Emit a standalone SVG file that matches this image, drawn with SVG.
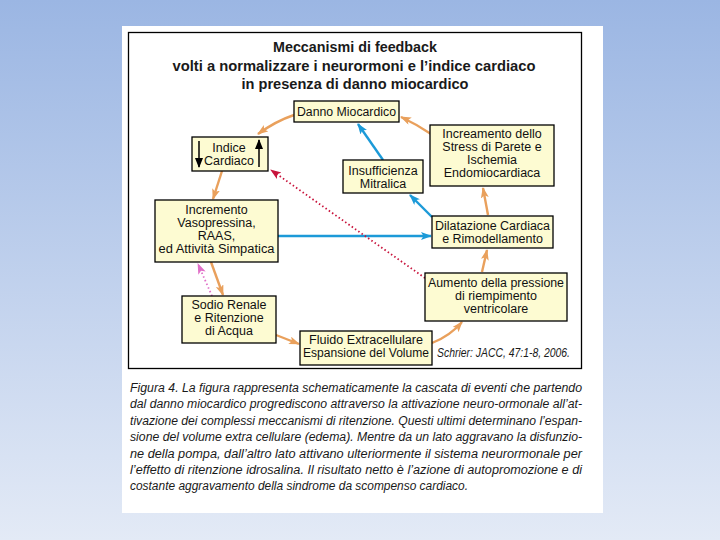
<svg xmlns="http://www.w3.org/2000/svg" width="720" height="540" viewBox="0 0 720 540">
<defs>
<linearGradient id="bg" x1="0" y1="0" x2="0" y2="1">
<stop offset="0" stop-color="#9bb6e3"/>
<stop offset="1" stop-color="#e3eaf6"/>
</linearGradient>
<marker id="ao" markerUnits="userSpaceOnUse" markerWidth="12" markerHeight="10" refX="10" refY="4" orient="auto"><path d="M0,0 L11,4 L0,8 L2.5,4 Z" fill="#e9a05c"/></marker>
<marker id="ab" markerUnits="userSpaceOnUse" markerWidth="12" markerHeight="10" refX="10" refY="4" orient="auto"><path d="M0,0 L11,4 L0,8 L2.5,4 Z" fill="#1c9ad8"/></marker>
<marker id="ar" markerUnits="userSpaceOnUse" markerWidth="12" markerHeight="10" refX="10" refY="4" orient="auto"><path d="M0,0 L11,4 L0,8 L2.5,4 Z" fill="#c8143c"/></marker>
<marker id="ap" markerUnits="userSpaceOnUse" markerWidth="12" markerHeight="10" refX="10" refY="4" orient="auto"><path d="M0,0 L11,4 L0,8 L2.5,4 Z" fill="#e070c8"/></marker>
<marker id="ak" markerUnits="userSpaceOnUse" markerWidth="10" markerHeight="10" refX="9" refY="4" orient="auto"><path d="M0,0 L10,4 L0,8 Z" fill="#000"/></marker>
</defs>
<style>
.box{fill:#fdfbd2;stroke:#000;stroke-width:1.3}
.t{font-family:"Liberation Sans",Arial,sans-serif;font-size:12.5px;fill:#111;text-anchor:middle}
.ttl{font-family:"Liberation Sans",Arial,sans-serif;font-size:15px;font-weight:bold;fill:#1a1a1a;text-anchor:middle}
.cap{font-family:"Liberation Sans",Arial,sans-serif;font-size:12.5px;font-style:italic;fill:#1a1a1a}
.o{fill:none;stroke:#e9a05c;stroke-width:2.4;marker-end:url(#ao)}
.b{fill:none;stroke:#1c9ad8;stroke-width:2.4;marker-end:url(#ab)}
.r{fill:none;stroke:#c8143c;stroke-width:1.8;stroke-dasharray:1.5 2.5;marker-end:url(#ar)}
.p{fill:none;stroke:#e070c8;stroke-width:1.8;stroke-dasharray:1.5 2.5;marker-end:url(#ap)}
.k{stroke:#000;stroke-width:1.5;marker-end:url(#ak)}
</style>
<rect width="720" height="540" fill="url(#bg)"/>
<rect x="122" y="26" width="481" height="487" fill="#fff"/>
<rect x="128.5" y="32.5" width="453" height="336" fill="none" stroke="#000" stroke-width="1.3"/>
<g id="title">
<text class="ttl" x="355" y="52" textLength="164" lengthAdjust="spacingAndGlyphs">Meccanismi di feedback</text>
<text class="ttl" x="354" y="71" textLength="363" lengthAdjust="spacingAndGlyphs">volti a normalizzare i neurormoni e l’indice cardiaco</text>
<text class="ttl" x="355" y="89" textLength="227" lengthAdjust="spacingAndGlyphs">in presenza di danno miocardico</text>
</g>
<g id="connectors">
<path class="o" d="M294,115 Q276,121 258,134"/>
<path class="o" d="M431,134 Q416,124 401,117"/>
<path class="o" d="M488,215 L483,188"/>
<path class="o" d="M482,272 L487,250"/>
<path class="o" d="M432,343 Q450,336 462,322"/>
<path class="o" d="M276,335 L299,344"/>
<path class="o" d="M211,262 L223,295"/>
<path class="o" d="M222,171 L213,199"/>
<path class="b" d="M278,236 L431,236"/>
<path class="b" d="M432,217 L410,195"/>
<path class="b" d="M383,160 L358,124"/>
<path class="r" d="M425,278 L271,170"/>
<path class="p" d="M212,296 L198,264"/>
</g>
<g id="danno"><rect class="box" x="294" y="101" width="105" height="21"/><text class="t" x="346.5" y="116" textLength="99" lengthAdjust="spacingAndGlyphs">Danno Miocardico</text></g>
<g id="indice"><rect class="box" x="192" y="137" width="76" height="34"/><text class="t" x="229" y="152">Indice</text><text class="t" x="229" y="165">Cardiaco</text>
<line class="k" x1="199" y1="141" x2="199" y2="167"/>
<line class="k" x1="259" y1="167" x2="259" y2="140"/></g>
<g id="insufficienza"><rect class="box" x="343" y="160" width="80" height="33"/><text class="t" x="383" y="175">Insufficienza</text><text class="t" x="383" y="188">Mitralica</text></g>
<g id="stress"><rect class="box" x="430" y="125" width="124" height="61"/><text class="t" x="492" y="138">Increamento dello</text><text class="t" x="492" y="151">Stress di Parete e</text><text class="t" x="492" y="164">Ischemia</text><text class="t" x="492" y="177">Endomiocardiaca</text></g>
<g id="dilatazione"><rect class="box" x="432" y="216" width="121" height="32"/><text class="t" x="492.5" y="230" textLength="115" lengthAdjust="spacingAndGlyphs">Dilatazione Cardiaca</text><text class="t" x="492.5" y="243">e Rimodellamento</text></g>
<g id="incremento"><rect class="box" x="155" y="200" width="123" height="62"/><text class="t" x="216.5" y="214">Incremento</text><text class="t" x="216.5" y="227">Vasopressina,</text><text class="t" x="216.5" y="240">RAAS,</text><text class="t" x="216.5" y="253" textLength="116" lengthAdjust="spacingAndGlyphs">ed Attività Simpatica</text></g>
<g id="sodio"><rect class="box" x="182" y="296" width="94" height="47"/><text class="t" x="229" y="309">Sodio Renale</text><text class="t" x="229" y="322">e Ritenzione</text><text class="t" x="229" y="335">di Acqua</text></g>
<g id="fluido"><rect class="box" x="300" y="331" width="132" height="34"/><text class="t" x="366" y="344" textLength="114" lengthAdjust="spacingAndGlyphs">Fluido Extracellulare</text><text class="t" x="366" y="357" textLength="126" lengthAdjust="spacingAndGlyphs">Espansione del Volume</text></g>
<g id="aumento"><rect class="box" x="425" y="273" width="142" height="48"/><text class="t" x="496" y="287" textLength="136" lengthAdjust="spacingAndGlyphs">Aumento della pressione</text><text class="t" x="496" y="300">di riempimento</text><text class="t" x="496" y="313">ventricolare</text></g>
<text class="cap" x="437" y="357" font-size="11.5" textLength="133" lengthAdjust="spacingAndGlyphs">Schrier: JACC, 47:1-8, 2006.</text>
<g id="caption">
<text class="cap" x="130" y="392" textLength="452" lengthAdjust="spacingAndGlyphs">Figura 4. La figura rappresenta schematicamente la cascata di eventi che partendo</text>
<text class="cap" x="130" y="408" textLength="452" lengthAdjust="spacingAndGlyphs">dal danno miocardico progrediscono attraverso la attivazione neuro-ormonale all’at-</text>
<text class="cap" x="130" y="425" textLength="452" lengthAdjust="spacingAndGlyphs">tivazione dei complessi meccanismi di ritenzione. Questi ultimi determinano l’espan-</text>
<text class="cap" x="130" y="441" textLength="452" lengthAdjust="spacingAndGlyphs">sione del volume extra cellulare (edema). Mentre da un lato aggravano la disfunzio-</text>
<text class="cap" x="130" y="458" textLength="452" lengthAdjust="spacingAndGlyphs">ne della pompa, dall’altro lato attivano ulteriormente il sistema neurormonale per</text>
<text class="cap" x="130" y="474" textLength="452" lengthAdjust="spacingAndGlyphs">l’effetto di ritenzione idrosalina. Il risultato netto è l’azione di autopromozione e di</text>
<text class="cap" x="130" y="490" textLength="338" lengthAdjust="spacingAndGlyphs">costante aggravamento della sindrome da scompenso cardiaco.</text>
</g>
</svg>
